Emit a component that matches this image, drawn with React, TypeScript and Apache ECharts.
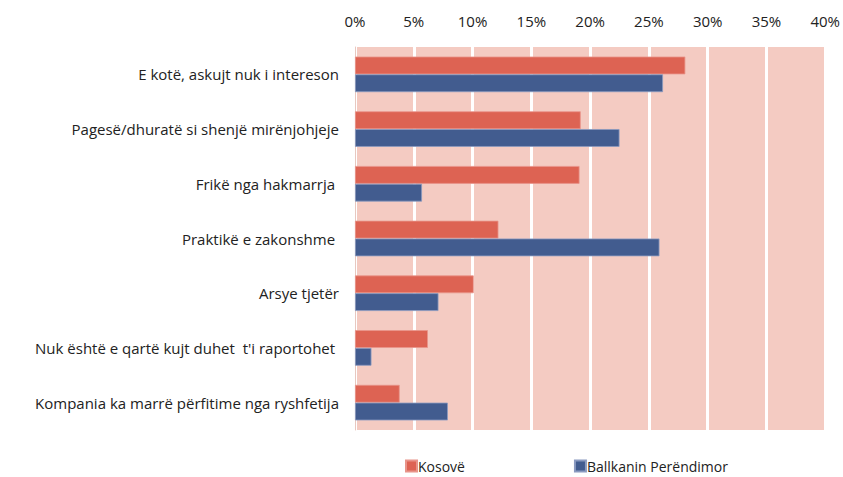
import React, { useEffect, useRef } from "react";
import * as echarts from "echarts";

const categories = [
  "E kotë, askujt nuk i intereson",
  "Pagesë/dhuratë si shenjë mirënjohjeje",
  "Frikë nga hakmarrja ",
  "Praktikë e zakonshme ",
  "Arsye tjetër",
  "Nuk është e qartë kujt duhet  t'i raportohet ",
  "Kompania ka marrë përfitime nga ryshfetija",
];
const kosove = [28.1, 19.2, 19.1, 12.2, 10.1, 6.2, 3.8];
const ballkan = [26.2, 22.5, 5.7, 25.9, 7.1, 1.4, 7.9];
const seriesNames = ["Kosovë", "Ballkanin Perëndimor"];

export default function App() {
  const ref = useRef<HTMLDivElement>(null);
  useEffect(() => {
    const chart = echarts.init(ref.current!, null, { renderer: "svg" });
    const font = "'Open Sans', 'Noto Sans', sans-serif";
    chart.setOption({
      animation: false,
      textStyle: { fontFamily: font },
      grid: {
        left: 355,
        right: 17,
        top: 47,
        bottom: 47,
        show: true,
        backgroundColor: "#F4CBC2",
        borderWidth: 0,
      },
      legend: {
        left: 405,
        top: 459,
        padding: 0,
        itemWidth: 11,
        itemHeight: 11,
        itemGap: 109,
        icon: "rect",
        textStyle: { fontSize: 14, color: "#222", fontFamily: font, padding: [0, 0, 0, -4] },
        data: seriesNames,
      },
      xAxis: {
        type: "value",
        position: "top",
        min: 0,
        max: 40,
        interval: 5,
        axisLabel: { formatter: "{value}%", fontSize: 15, color: "#222", margin: 19 },
        axisLine: { show: false },
        axisTick: { show: false },
        splitLine: { show: true, lineStyle: { color: "#FFFFFF", width: 3 } },
      },
      yAxis: {
        type: "category",
        inverse: true,
        data: categories,
        axisLabel: { fontSize: 15, color: "#222", margin: 16 },
        axisLine: { show: true, lineStyle: { color: "#E8C8C0", width: 1 } },
        axisTick: { show: false },
      },
      series: [
        {
          name: seriesNames[0],
          type: "bar",
          data: kosove,
          barGap: "0%",
          barCategoryGap: "35%",
          itemStyle: { color: "#DD6353", borderColor: "#E8948A", borderWidth: 0.8 },
        },
        {
          name: seriesNames[1],
          type: "bar",
          data: ballkan,
          barGap: "0%",
          barCategoryGap: "35%",
          itemStyle: { color: "#425C8F", borderColor: "#8A9AC0", borderWidth: 0.8 },
        },
      ],
    });
    return () => chart.dispose();
  }, []);
  return <div ref={ref} style={{ width: 843, height: 477, position: "absolute", left: 0, top: 0 }} />;
}
